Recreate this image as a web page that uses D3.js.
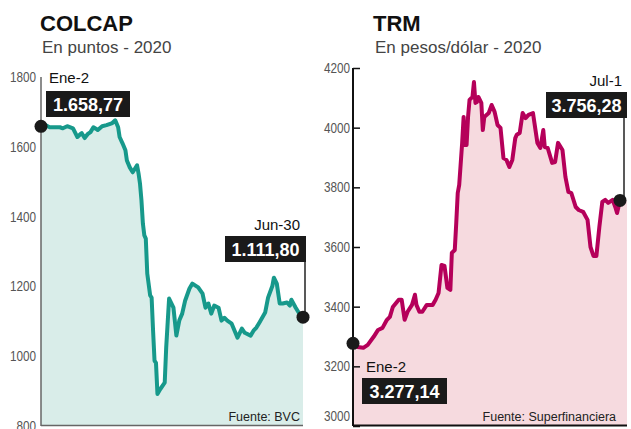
<!DOCTYPE html>
<html>
<head>
<meta charset="utf-8">
<script src="https://cdn.jsdelivr.net/npm/d3@7"></script>
<style>
  body { margin: 0; background: #fff; }
  svg { display: block; }
</style>
</head>
<body>
<svg width="631" height="429"></svg>
<script>
// COLCAP, en puntos (días desde el 2 de enero de 2020)
const colcapDias = [0,3,6,10,13,15,18,22,25,27,28,30,32,34,36,38,39,42,45,49,51,53,54,56,58,59,61,63,66,67,68,69,70,71,72,73,75,76,77,78,79,80,82,85,86,88,91,93,95,97,99,102,104,108,111,113,115,117,119,122,124,126,128,131,133,135,138,140,144,146,148,150,154,156,159,160,162,164,166,169,171,172,175,177,180];
const colcapValores = [1658.77,1662,1656,1656,1656,1653,1659,1653,1628,1636,1639,1625,1636,1642,1656,1651,1648,1659,1662,1668,1676,1656,1628,1610,1590,1561,1541,1527,1547,1524,1495,1447,1380,1346,1337,1237,1174,1168,1073,987,981,892,906,924,1024,1165,1139,1059,1102,1122,1159,1194,1208,1197,1179,1139,1151,1122,1145,1139,1102,1110,1102,1093,1073,1053,1079,1067,1059,1073,1082,1096,1125,1168,1202,1225,1208,1151,1151,1154,1145,1162,1139,1125,1111.80];
const colcapTicks = [800,1000,1200,1400,1600,1800];

// TRM, en pesos/dólar (días desde el 2 de enero de 2020)
const trmDias = [0,3,7,10,14,17,20,23,25,27,31,33,35,37,40,42,43,45,47,50,54,56,58,60,62,64,66,67,69,70,71,72,74,75,76,77,78,79,81,82,83,84,85,87,88,89,92,94,96,98,100,102,104,106,108,110,111,113,115,117,119,122,125,127,129,130,132,135,137,139,142,144,146,148,151,153,156,159,161,163,165,167,169,171,173,176,178,179,181];
const trmValores = [3277.14,3265,3262,3272,3299,3322,3329,3356,3366,3399,3423,3423,3356,3383,3406,3440,3406,3383,3383,3406,3406,3423,3446,3540,3537,3463,3456,3580,3590,3681,3781,3808,3949,4036,3942,3942,4036,4093,4103,4153,4083,4086,4103,4083,3992,4036,4049,4076,4053,4009,3999,3898,3892,3868,3892,3965,3976,3982,4049,4032,4043,4049,3949,3932,3992,3935,3932,3882,3885,3949,3925,3835,3785,3781,3734,3724,3718,3691,3600,3570,3570,3667,3751,3758,3748,3758,3731,3714,3756.28];
const trmTicks = [3000,3200,3400,3600,3800,4000,4200];

const sans = "'Liberation Sans', Arial, sans-serif";
const squeeze = 0.84; // tick labels are set in a condensed face

const svg = d3.select('svg');

function drawPanel(p) {
    const g = svg.append('g');
    const x = d3.scaleLinear().domain(p.xDomain).range(p.xRange);
    const y = d3.scaleLinear().domain(p.yDomain).range(p.yRange);
    const data = p.dias.map((d, i) => ({ d: d, v: p.valores[i] }));
    const last = data[data.length - 1];
    const first = data[0];
    const bottom = y(p.yDomain[0]) - 1;

    // titles
    g.append('text')
        .attr('x', p.titleX).attr('y', 31)
        .style('font', `bold 22px ${sans}`)
        .style('fill', '#111')
        .text(p.title);
    g.append('text')
        .attr('x', p.titleX + 2).attr('y', 53)
        .style('font', `17px ${sans}`)
        .style('fill', '#444')
        .text(p.subtitle);

    // area under the line
    const area = d3.area()
        .x(d => x(d.d))
        .y0(bottom)
        .y1(d => y(d.v));
    g.append('path')
        .datum(data)
        .attr('d', area)
        .attr('fill', p.fill);
    if (p.extra) {
        g.append('rect')
            .attr('x', x(last.d)).attr('y', y(last.v))
            .attr('width', p.extra).attr('height', bottom - y(last.v))
            .attr('fill', p.fill);
    }

    // y axis
    const axis = d3.axisLeft(y)
        .tickValues(p.ticks)
        .tickFormat(d3.format('d'))
        .tickSizeOuter(0)
        .tickSizeInner(p.tickSize)
        .tickPadding(p.tickPad);
    const ax = g.append('g')
        .attr('transform', `translate(${p.xRange[0]},0)`)
        .call(axis);
    ax.select('.domain')
        .attr('stroke', p.axisColor)
        .attr('stroke-width', p.axisWidth)
        .attr('d', `M0,${y(p.yDomain[1])}V${bottom + 1}`);
    ax.selectAll('.tick line').attr('stroke', p.axisColor).attr('stroke-width', 1.5);
    ax.selectAll('.tick text')
        .attr('x', -p.tickPad / squeeze)
        .attr('transform', `scale(${squeeze},1)`)
        .style('font-family', sans)
        .style('font-size', '14px')
        .style('fill', '#555');
    if (p.lowLabelShift) {
        ax.selectAll('.tick text').filter(d => d === p.yDomain[0])
            .attr('dy', `${p.lowLabelShift}px`);
    }

    // bottom axis line
    g.append('line')
        .attr('x1', p.xRange[0]).attr('x2', x(last.d) + (p.extra || 0))
        .attr('y1', bottom + 0.5).attr('y2', bottom + 0.5)
        .attr('stroke', p.axisColor)
        .attr('stroke-width', p.axisWidth);

    // series line
    const line = d3.line()
        .x(d => x(d.d))
        .y(d => y(d.v));
    g.append('path')
        .datum(data)
        .attr('d', line)
        .attr('fill', 'none')
        .attr('stroke', p.color)
        .attr('stroke-width', 4)
        .attr('stroke-linejoin', 'round');

    // source
    g.append('text')
        .attr('x', p.sourceX).attr('y', 421)
        .attr('text-anchor', 'end')
        .style('font', `12.5px ${sans}`)
        .style('fill', '#222')
        .text(p.source);

    // annotations: first and last value
    p.notes.forEach(n => {
        const pt = n.end ? last : first;
        const cx = x(pt.d), cy = y(pt.v);
        if (n.connector) {
            g.append('line')
                .attr('x1', cx + n.connector).attr('x2', cx + n.connector)
                .attr('y1', n.boxY + 26).attr('y2', cy)
                .attr('stroke', '#222').attr('stroke-width', 1.5);
        }
        g.append('rect')
            .attr('x', n.boxX).attr('y', n.boxY)
            .attr('width', n.boxW).attr('height', 26)
            .attr('fill', '#1a1a1a');
        g.append('text')
            .attr('x', n.boxX + n.boxW / 2).attr('y', n.boxY + 20)
            .attr('text-anchor', 'middle')
            .style('font', `bold 18px ${sans}`)
            .style('fill', '#fff')
            .text(n.value);
        g.append('text')
            .attr('x', n.labelX).attr('y', n.labelY)
            .attr('text-anchor', n.anchor)
            .style('font', `15px ${sans}`)
            .style('fill', '#111')
            .text(n.label);
        g.append('circle')
            .attr('cx', cx).attr('cy', cy)
            .attr('r', 6.5)
            .attr('fill', '#1a1a1a');
    });
}

drawPanel({
    title: 'COLCAP', subtitle: 'En puntos - 2020', titleX: 40,
    dias: colcapDias, valores: colcapValores, ticks: colcapTicks,
    xDomain: [0, 180], xRange: [41, 303],
    yDomain: [800, 1800], yRange: [426, 77],
    fill: '#d9ede9', color: '#17998b',
    axisColor: '#666', axisWidth: 1.5, tickSize: 0, tickPad: 5,
    source: 'Fuente: BVC', sourceX: 300,
    notes: [
        { end: false, label: 'Ene-2', labelX: 49, labelY: 83, anchor: 'start',
          value: '1.658,77', boxX: 46, boxY: 91, boxW: 84 },
        { end: true, label: 'Jun-30', labelX: 300, labelY: 230, anchor: 'end',
          value: '1.111,80', boxX: 225, boxY: 236, boxW: 81, connector: 2 }
    ]
});

drawPanel({
    title: 'TRM', subtitle: 'En pesos/dólar - 2020', titleX: 373,
    dias: trmDias, valores: trmValores, ticks: trmTicks,
    xDomain: [0, 181], xRange: [353, 620],
    yDomain: [3000, 4200], yRange: [426, 68],
    fill: '#f6dadf', color: '#b5005a', extra: 7,
    axisColor: '#111', axisWidth: 2, tickSize: -7, tickPad: 3, lowLabelShift: -6,
    source: 'Fuente: Superfinanciera', sourceX: 616,
    notes: [
        { end: false, label: 'Ene-2', labelX: 366, labelY: 372, anchor: 'start',
          value: '3.277,14', boxX: 362, boxY: 378, boxW: 85 },
        { end: true, label: 'Jul-1', labelX: 622, labelY: 86, anchor: 'end',
          value: '3.756,28', boxX: 546, boxY: 92, boxW: 81, connector: 4 }
    ]
});
</script>
</body>
</html>
